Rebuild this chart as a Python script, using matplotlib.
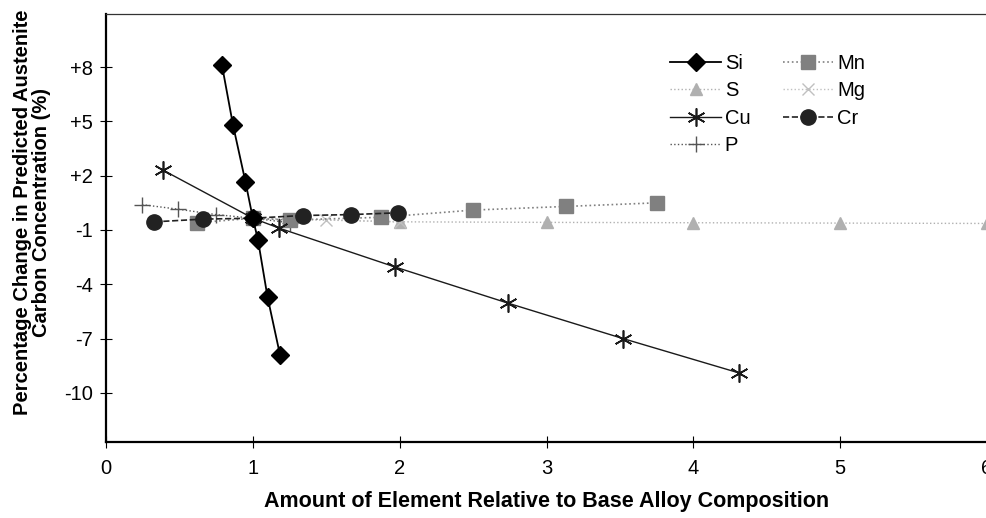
import matplotlib.pyplot as plt
import numpy as np

plt.rcParams['font.family'] = ['Liberation Sans', 'DejaVu Sans']

# data
si_x = [0.79, 0.865, 0.95, 1.0, 1.035, 1.10, 1.185]
si_y = [8.1, 4.8, 1.65, -0.35, -1.55, -4.7, -7.9]

s_x = [1.0, 2.0, 3.0, 4.0, 5.0, 6.0]
s_y = [-0.35, -0.55, -0.58, -0.6, -0.62, -0.64]

cu_x = [0.39, 1.0, 1.18, 1.97, 2.74, 3.52, 4.31]
cu_y = [2.3, -0.35, -0.9, -3.05, -5.05, -7.0, -8.9]

p_x = [0.245, 0.49, 0.75, 1.0, 1.25]
p_y = [0.4, 0.15, -0.15, -0.35, -0.6]

mn_x = [0.62, 1.0, 1.25, 1.87, 2.5, 3.13, 3.75]
mn_y = [-0.6, -0.35, -0.45, -0.3, 0.1, 0.3, 0.5]

mg_x = [1.0, 1.5, 2.0]
mg_y = [-0.35, -0.45, -0.55]

cr_x = [0.33, 0.66, 1.0, 1.34, 1.67, 1.99]
cr_y = [-0.55, -0.4, -0.35, -0.2, -0.15, -0.05]

y_ticks = [8, 5, 2, -1, -4, -7, -10]
y_tick_labels = ['+8', '+5', '+2', '-1', '-4', '-7', '-10']
x_ticks = [0, 1, 2, 3, 4, 5, 6]

fig = plt.figure(figsize=(9.87, 5.18), dpi=100)
ax = fig.add_axes([0.1074, 0.1467, 0.8926, 0.826])

ax.plot(si_x, si_y, color='black', linestyle='-', linewidth=1.3, marker='D',
        markersize=9, label='Si', zorder=5)
ax.plot(s_x, s_y, color='#b0b0b0', linestyle=':', linewidth=1.0, marker='^',
        markersize=8, label='S', zorder=2)
ax.plot(cu_x, cu_y, color='#1a1a1a', linestyle='-', linewidth=1.0, marker=(6, 2, 0),
        markersize=13, markeredgewidth=1.2, label='Cu', zorder=4)
ax.plot(p_x, p_y, color='#555555', linestyle=':', linewidth=1.0, marker='+',
        markersize=11, markeredgewidth=1.0, label='P', zorder=3)
ax.plot(mn_x, mn_y, color='#808080', linestyle=':', linewidth=1.2, marker='s',
        markersize=10, label='Mn', zorder=3)
ax.plot(mg_x, mg_y, color='#c0c0c0', linestyle=':', linewidth=1.0, marker='x',
        markersize=9, label='Mg', zorder=2)
ax.plot(cr_x, cr_y, color='#222222', linestyle='--', linewidth=1.2, marker='o',
        markersize=11, label='Cr', zorder=4)

ax.set_xlim(0, 6.0)
ax.set_ylim(-12.72, 10.93)
ax.set_xticks(x_ticks)
ax.set_yticks(y_ticks)
ax.set_yticklabels(y_tick_labels)

ax.spines['right'].set_visible(False)
ax.spines['left'].set_linewidth(1.6)
ax.spines['bottom'].set_linewidth(1.6)
ax.spines['top'].set_linewidth(0.9)
ax.spines['top'].set_color('#333333')

ax.tick_params(axis='both', direction='inout', length=9, width=0.8, labelsize=14.5)
ax.tick_params(axis='x', pad=8)
ax.tick_params(axis='y', pad=5)

ax.set_xlabel('Amount of Element Relative to Base Alloy Composition',
              fontsize=15.5, fontweight='bold', labelpad=9)
ax.set_ylabel('Percentage Change in Predicted Austenite\nCarbon Concentration (%)',
              fontsize=14.5, fontweight='bold', linespacing=1.0)
ax.yaxis.set_label_coords(-0.062, 0.537)

leg = ax.legend(ncol=2, loc='upper left', bbox_to_anchor=(0.62, 0.95),
                frameon=False, fontsize=14.5, handlelength=2.5, handletextpad=0.2,
                columnspacing=1.6, labelspacing=0.42)

fig.savefig('out.png', dpi=100)
